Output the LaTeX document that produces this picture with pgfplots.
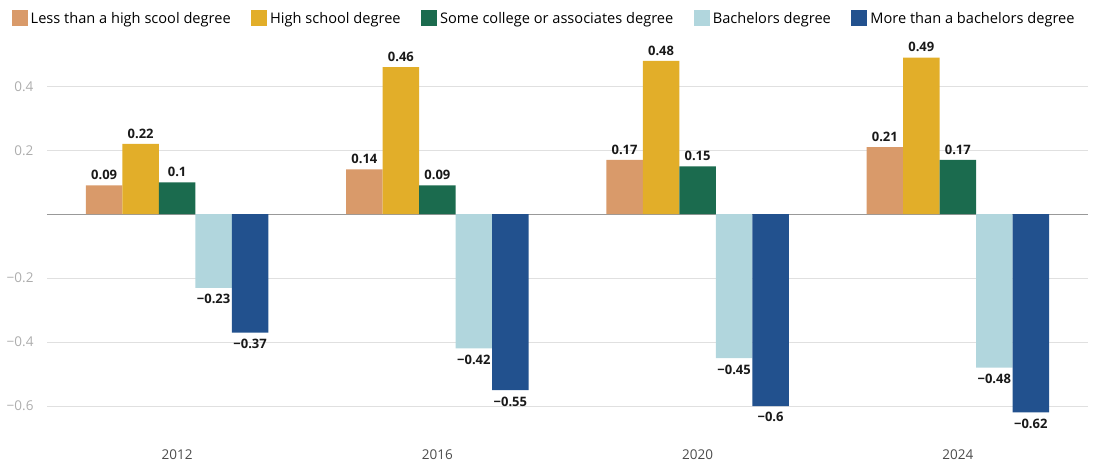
\documentclass[border=0pt]{standalone}
\usepackage{pgfplots}
\pgfplotsset{compat=1.18}
\usepackage{fontspec}
\setmainfont{Open Sans}
\definecolor{cLess}{HTML}{D99A6A}
\definecolor{cHigh}{HTML}{E2AE29}
\definecolor{cSome}{HTML}{1B6B4E}
\definecolor{cBach}{HTML}{B1D6DD}
\definecolor{cMore}{HTML}{22518E}
\begin{document}
\begin{tikzpicture}
\begin{axis}[
  scale only axis, width=1041pt, height=390pt,
  ybar=0pt, bar width=36.5pt,
  xmin=-0.5, xmax=3.5, ymin=-0.7, ymax=0.52,
  xtick={0,1,2,3}, xticklabels={2012,2016,2020,2024},
  ytick={-0.6,-0.4,-0.2,0.2,0.4}, yticklabels={−0.6,−0.4,−0.2,0.2,0.4},
  axis line style={draw=none}, major tick length=0pt,
  ymajorgrids, grid style={black!12, line width=0.9pt},
  extra y ticks={0}, extra y tick labels={},
  extra y tick style={grid style={black!40, line width=1pt}},
  tick label style={font=\fontsize{13.5}{15}\selectfont},
  yticklabel style={text=black!32, xshift=-10pt},
  xticklabel style={text=black!70, yshift=-8pt},
  nodes near coords, point meta=explicit symbolic,
  every node near coord/.append style={font=\bfseries\fontsize{13}{15}\selectfont, text=black!90},
  legend style={draw=none, at={(rel axis cs:0,1)}, anchor=south west, xshift=-38.5pt, yshift=19pt,
    font=\fontsize{14.6}{16}\selectfont, legend columns=-1,
    nodes={inner xsep=3pt},
    /tikz/every even column/.append style={column sep=17.5pt}},
  legend image code/.code={\fill[#1] (0pt,-7.5pt) rectangle (16pt,8.5pt);},
  clip=false,
]
\addplot[fill=cLess, draw=none, every node near coord/.append style={anchor=south, yshift=2pt}] coordinates {(0,0.09) [0.09] (1,0.14) [0.14] (2,0.17) [0.17] (3,0.21) [0.21]};
\addplot[fill=cHigh, draw=none, every node near coord/.append style={anchor=south, yshift=2pt}] coordinates {(0,0.22) [0.22] (1,0.46) [0.46] (2,0.48) [0.48] (3,0.49) [0.49]};
\addplot[fill=cSome, draw=none, every node near coord/.append style={anchor=south, yshift=2pt}] coordinates {(0,0.10) [0.1] (1,0.09) [0.09] (2,0.15) [0.15] (3,0.17) [0.17]};
\addplot[fill=cBach, draw=none, every node near coord/.append style={anchor=north, yshift=-3pt}] coordinates {(0,-0.23) [−0.23] (1,-0.42) [−0.42] (2,-0.45) [−0.45] (3,-0.48) [−0.48]};
\addplot[fill=cMore, draw=none, every node near coord/.append style={anchor=north, yshift=-3pt}] coordinates {(0,-0.37) [−0.37] (1,-0.55) [−0.55] (2,-0.60) [−0.6] (3,-0.62) [−0.62]};
\legend{Less than a high scool degree, High school degree, Some college or associates degree, Bachelors degree, More than a bachelors degree}
\end{axis}
\pgfresetboundingbox
\path[use as bounding box] (current axis.south west) ++(-47pt,-26pt) rectangle ++(1093pt,464pt);
\end{tikzpicture}
\end{document}
